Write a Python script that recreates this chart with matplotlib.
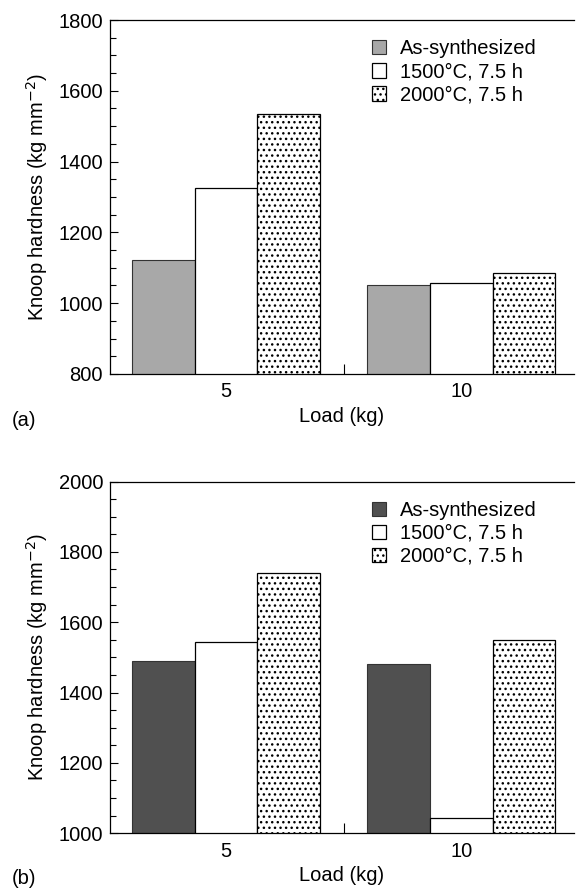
import matplotlib
matplotlib.use("Agg")
import matplotlib.pyplot as plt
import numpy as np
from matplotlib.ticker import MultipleLocator, FixedLocator

plt.rcParams['font.family'] = ['Liberation Sans', 'DejaVu Sans']
plt.rcParams['hatch.linewidth'] = 1.0

loads = ["5", "10"]
series = ["As-synthesized", "1500\u00b0C, 7.5 h", "2000\u00b0C, 7.5 h"]

# panel (a)
hard_a_as = [1122, 1052]
hard_a_1500 = [1325, 1057]
hard_a_2000 = [1535, 1086]

# panel (b)
hard_b_as = [1489, 1480]
hard_b_1500 = [1545, 1043]
hard_b_2000 = [1740, 1550]

FS = 14.5
W = 0.266


def panel(ax, vals, dark, ylim, yticks, tag):
    x = np.arange(len(loads))
    ax.bar(x - W, vals[0], W, color=dark, edgecolor='#333333',
           linewidth=0.8, label=series[0])
    ax.bar(x, vals[1], W, color='white', edgecolor='black',
           linewidth=0.9, label=series[1])
    ax.bar(x + W, vals[2], W, color='white', edgecolor='black',
           linewidth=0.9, hatch='...', label=series[2])

    ax.set_xlim(-0.4926, 1.478)
    ax.set_ylim(*ylim)
    ax.spines['right'].set_visible(False)
    for s in ['left', 'top', 'bottom']:
        ax.spines[s].set_linewidth(0.9)

    ax.yaxis.set_major_locator(FixedLocator(yticks))
    ax.yaxis.set_minor_locator(MultipleLocator(50))
    ax.tick_params(axis='y', which='major', direction='in', length=6,
                   width=0.8, labelsize=FS, pad=5, right=False)
    ax.tick_params(axis='y', which='minor', direction='in', length=4,
                   width=0.8, right=False)

    ax.set_xticks(x)
    ax.set_xticklabels(loads)
    ax.xaxis.set_minor_locator(FixedLocator([0.5]))
    ax.tick_params(axis='x', which='major', length=0, labelsize=FS, pad=6,
                   top=False)
    ax.tick_params(axis='x', which='minor', direction='in', length=7,
                   width=0.8, top=False)

    ax.set_xlabel("Load (kg)", fontsize=FS, labelpad=4)
    ax.set_ylabel("Knoop hardness (kg mm$^{-2}$)", fontsize=FS, labelpad=6)
    ax.text(-0.185, -0.13, tag, transform=ax.transAxes, fontsize=FS,
            ha='center', va='center')

    ax.legend(loc='upper left', bbox_to_anchor=(0.565, 0.945),
              frameon=False, fontsize=FS, handlelength=0.7,
              handleheight=0.7, handletextpad=0.7, labelspacing=0.2,
              borderpad=0, borderaxespad=0)


fig = plt.figure(figsize=(5.77, 8.93), dpi=100)
ax1 = fig.add_axes([0.1906, 0.5812, 0.804, 0.3964])
ax2 = fig.add_axes([0.1906, 0.0669, 0.804, 0.3939])

panel(ax1, [hard_a_as, hard_a_1500, hard_a_2000], '#a8a8a8',
      (800, 1800), [800, 1000, 1200, 1400, 1600, 1800], '(a)')
panel(ax2, [hard_b_as, hard_b_1500, hard_b_2000], '#505050',
      (1000, 2000), [1000, 1200, 1400, 1600, 1800, 2000], '(b)')

fig.savefig("out.png", dpi=100)
